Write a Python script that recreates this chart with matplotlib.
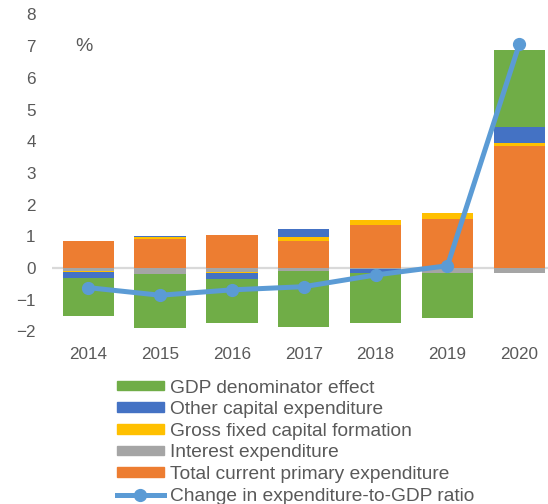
import numpy as np
import matplotlib.pyplot as plt
from matplotlib.lines import Line2D
from matplotlib.patches import Patch

plt.rcParams['font.family'] = ['Liberation Sans', 'DejaVu Sans']

years = ["2014", "2015", "2016", "2017", "2018", "2019", "2020"]

# contributions, percentage points of GDP
current_primary = [0.85, 0.90, 1.03, 0.86, 1.35, 1.55, 3.84]
interest = [-0.09, -0.19, -0.12, -0.10, -0.03, -0.15, -0.17]
gfcf = [-0.05, 0.07, -0.03, 0.12, 0.17, 0.18, 0.10]
other_capital = [-0.18, 0.04, -0.19, 0.26, -0.12, 0.0, 0.50]
gdp_denominator = [-1.18, -1.70, -1.38, -1.76, -1.58, -1.43, 2.43]
ratio_change = [-0.62, -0.86, -0.69, -0.59, -0.22, 0.07, 7.06]

series = [
    ("Total current primary expenditure", current_primary, "#ED7D31"),
    ("Interest expenditure", interest, "#A5A5A5"),
    ("Gross fixed capital formation", gfcf, "#FFC000"),
    ("Other capital expenditure", other_capital, "#4472C4"),
    ("GDP denominator effect", gdp_denominator, "#70AD47"),
]
line_color = "#5B9BD5"
text_color = "#595959"

fig = plt.figure(figsize=(5.48, 5.04), dpi=100)
ax = fig.add_axes([0.0956, 0.3425, 0.9044, 0.6289])

x = np.arange(len(years))
pos_base = np.zeros(len(years))
neg_base = np.zeros(len(years))
for name, vals, col in series:
    v = np.array(vals)
    bottom = np.where(v >= 0, pos_base, neg_base)
    ax.bar(x, v, 0.715, bottom=bottom, color=col, zorder=2)
    pos_base += np.where(v >= 0, v, 0)
    neg_base += np.where(v < 0, v, 0)

ax.axhline(0, color="#D9D9D9", lw=1.6, zorder=1)
ax.plot(x, ratio_change, color=line_color, lw=3.6, marker="o", ms=8.5, zorder=3)

ax.set_xlim(-0.5, 6.4)
ax.set_ylim(-2, 8)
ax.set_yticks(range(-2, 9))
ax.set_xticks(x)
ax.set_xticklabels(years)
ax.tick_params(length=0, labelsize=12.3, labelcolor=text_color)
ax.tick_params(axis="y", pad=12)
ax.tick_params(axis="x", pad=11)
for s in ax.spines.values():
    s.set_visible(False)

ax.text(-0.06, 7.0, "%", fontsize=14, color=text_color, ha="center", va="center")

handles = [Patch(color=col, label=name) for name, vals, col in series[::-1]]
handles.append(Line2D([], [], color=line_color, lw=3.6, marker="o", ms=8.5,
                      label="Change in expenditure-to-GDP ratio"))
leg = fig.legend(handles=handles, loc="upper left", bbox_to_anchor=(0.213, 0.247),
                 frameon=False, fontsize=13.8, handlelength=2.45, handleheight=0.4,
                 handletextpad=0.31, labelspacing=0.24, borderpad=0, borderaxespad=0)
for t in leg.get_texts():
    t.set_color(text_color)

fig.savefig("out.png", dpi=100)
